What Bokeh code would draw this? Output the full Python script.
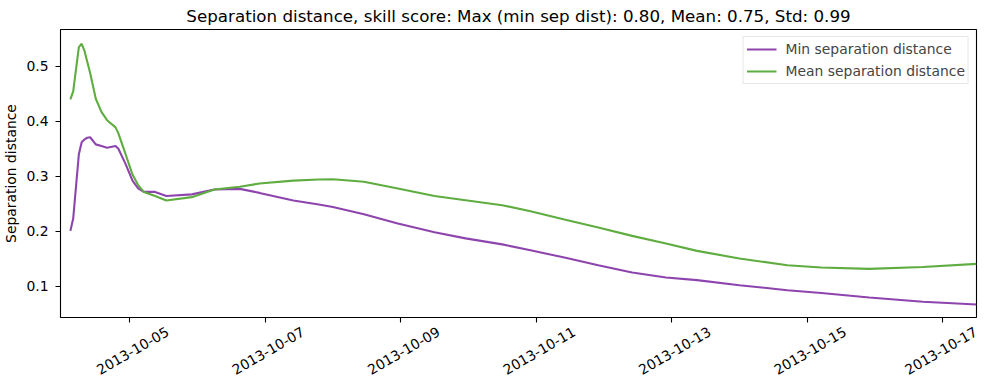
from datetime import datetime, timedelta
import math
from bokeh.plotting import figure
from bokeh.models import (FixedTicker, Range1d, Legend, LegendItem, NumeralTickFormatter,
                          LinearAxis)
from bokeh.embed import file_html
from bokeh.resources import INLINE

# ---- data (hours after 2013-10-04 00:00) ----
hours = [3, 4, 6, 7, 8, 9, 10, 12, 14, 16, 19, 20, 22.5, 25, 27, 29, 33, 37, 46, 54, 63, 70,
         82, 91, 96, 107, 119, 132, 143, 156, 166, 178, 190, 202, 214, 225, 240, 257, 269,
         286, 305, 324]
min_sep = [0.2006, 0.223, 0.340, 0.362, 0.367, 0.370, 0.371, 0.358, 0.355, 0.352, 0.355, 0.350,
           0.323, 0.292, 0.278, 0.2715, 0.2715, 0.264, 0.267, 0.2758, 0.277, 0.2697,
           0.256, 0.2485, 0.2442, 0.231, 0.214, 0.198, 0.187, 0.176, 0.1655, 0.152, 0.138,
           0.125, 0.1158, 0.111, 0.1018, 0.0927, 0.0875, 0.0795, 0.0716, 0.0667]
mean_sep = [0.440, 0.4545, 0.535, 0.541, 0.528, 0.508, 0.488, 0.441, 0.417, 0.402, 0.389, 0.378,
            0.341, 0.303, 0.284, 0.2715, 0.264, 0.256, 0.262, 0.276, 0.281, 0.2867,
            0.292, 0.294, 0.2945, 0.290, 0.2776, 0.264, 0.2564, 0.2473, 0.2364, 0.2212, 0.2067,
            0.1915, 0.1776, 0.1642, 0.1503, 0.1382, 0.134, 0.1315, 0.135, 0.1406]
tick_labels = ["2013-10-05", "2013-10-07", "2013-10-09", "2013-10-11",
               "2013-10-13", "2013-10-15", "2013-10-17"]
y_ticks = [0.1, 0.2, 0.3, 0.4, 0.5]
title_text = "Separation distance, skill score: Max (min sep dist): 0.80, Mean: 0.75, Std: 0.99"

base = datetime(2013, 10, 4)
times = [base + timedelta(hours=h) for h in hours]

def ms(d):
    return (d - datetime(1970, 1, 1)).total_seconds() * 1000.0

FONT = "DejaVu Sans"
PURPLE = "#8e44ad"
GREEN = "#5fad41"
Y0, Y1 = 0.043, 0.567
X0 = ms(base - timedelta(hours=0.5))
X1 = ms(base + timedelta(hours=324))
FRAME_W = 916
MS_PER_PX = (X1 - X0) / FRAME_W

p = figure(frame_width=FRAME_W, frame_height=288, x_axis_type="datetime",
           output_backend="svg", toolbar_location=None,
           min_border_left=0, min_border_right=3, min_border_top=0, min_border_bottom=0,
           x_range=Range1d(X0, X1), y_range=Range1d(Y0, Y1))

p.title.text = title_text
p.title.align = "center"
p.title.text_font = FONT
p.title.text_font_size = "16.7px"
p.title.text_font_style = "normal"
p.title.text_color = "black"
p.title.standoff = 7

r1 = p.line(times, min_sep, line_color=PURPLE, line_width=2.1)
r2 = p.line(times, mean_sep, line_color=GREEN, line_width=2.1)

p.xgrid.visible = False
p.ygrid.visible = False
p.outline_line_color = "black"
p.outline_line_width = 1.1

tick_ms = [int(ms(datetime.strptime(t, "%Y-%m-%d"))) for t in tick_labels]

# axis 1: tick marks only at the true dates
xa = p.xaxis[0]
xa.ticker = FixedTicker(ticks=tick_ms)
xa.major_label_overrides = {t: "" for t in tick_ms}
xa.major_label_standoff = 0

# axis 2: rotated date labels, anchored so each label is centred under its tick
lab_pos = [int(min(t + 38 * MS_PER_PX, X1 - 0.5 * MS_PER_PX)) for t in tick_ms]
xl = LinearAxis(ticker=FixedTicker(ticks=lab_pos),
                major_label_overrides={t: lab for t, lab in zip(lab_pos, tick_labels)},
                major_label_orientation=math.pi / 6)
xl.major_tick_line_color = None
xl.major_tick_out = 0
xl.major_tick_in = 0
xl.minor_tick_line_color = None
xl.axis_line_color = None
xl.major_label_standoff = 8
xl.major_label_text_font = FONT
xl.major_label_text_font_size = "13.9px"
xl.major_label_text_color = "black"
p.add_layout(xl, "below")

ya = p.yaxis[0]
ya.ticker = FixedTicker(ticks=y_ticks)
ya.formatter = NumeralTickFormatter(format="0.0")
ya.axis_label = "Separation distance"

for ax in (xa, ya):
    ax.major_label_text_font = FONT
    ax.major_label_text_font_size = "13.9px"
    ax.major_label_text_color = "black"
    ax.axis_label_text_font = FONT
    ax.axis_label_text_font_size = "13.9px"
    ax.axis_label_text_font_style = "normal"
    ax.axis_label_text_color = "black"
    ax.axis_line_color = None
    ax.major_tick_line_color = "black"
    ax.major_tick_line_width = 1.1
    ax.major_tick_out = 5
    ax.major_tick_in = 0
    ax.minor_tick_line_color = None
xa.major_label_text_font_size = "0px"
ya.major_label_standoff = 7
ya.axis_label_standoff = 4

legend = Legend(items=[LegendItem(label="Min separation distance", renderers=[r1]),
                       LegendItem(label="Mean separation distance", renderers=[r2])],
                location="top_right")
legend.label_text_font = FONT
legend.label_text_font_size = "13.9px"
legend.glyph_width = 30
legend.glyph_height = 18
legend.label_height = 18
legend.label_standoff = 9
legend.spacing = 4
legend.padding = 3
legend.margin = 7
legend.border_line_color = "#d0d0d0"
legend.border_line_width = 1
legend.background_fill_alpha = 0.8
p.add_layout(legend, "center")

open("out.html", "w").write(file_html(p, INLINE))
